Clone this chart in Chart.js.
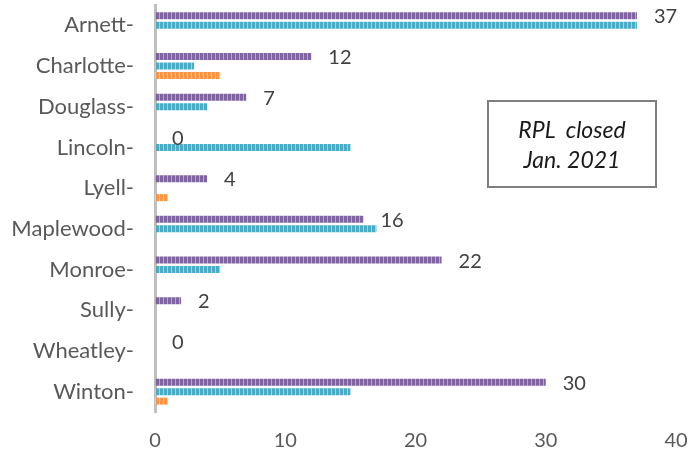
<!DOCTYPE html>
<html>
<head>
<meta charset="utf-8">
<script src="https://cdn.jsdelivr.net/npm/chart.js@4/dist/chart.umd.min.js"></script>
<style>
  html, body { margin: 0; padding: 0; background: #fff; }
  #wrap { position: relative; width: 693px; height: 456px; }
  #note {
    position: absolute; left: 487px; top: 100px; width: 166px; height: 84px;
    border: 2px solid #7f7f7f; box-sizing: content-box;
    font-family: Lato, "Open Sans", sans-serif; font-style: italic; font-size: 23px;
    color: #1a1a1a; text-align: center; line-height: 30px; padding-top: 0;
    display: flex; flex-direction: column; justify-content: center;
  }
</style>
</head>
<body>
<div id="wrap">
  <canvas id="c" width="693" height="456"></canvas>
  <div id="note"><div>RPL&nbsp; closed</div><div>Jan. 2021</div></div>
</div>
<script>
const categories = ["Arnett", "Charlotte", "Douglass", "Lincoln", "Lyell", "Maplewood", "Monroe", "Sully", "Wheatley", "Winton"];
const purpleValues = [37, 12, 7, 0, 4, 16, 22, 2, 0, 30];
const tealValues   = [37, 3, 4, 15, 0, 17, 5, 0, 0, 15];
const orangeValues = [0, 5, 0, 0, 1, 0, 0, 0, 0, 1];
const xTicks = [0, 10, 20, 30, 40];

function stripe(color, light) {
  const c = document.createElement('canvas');
  c.width = 4; c.height = 1;
  const g = c.getContext('2d');
  g.fillStyle = color; g.fillRect(0, 0, 3, 1);
  g.fillStyle = light; g.fillRect(3, 0, 1, 1);
  return document.getElementById('c').getContext('2d').createPattern(c, 'repeat');
}

const valueLabels = {
  id: 'valueLabels',
  afterDatasetsDraw(chart) {
    const ctx = chart.ctx;
    const meta = chart.getDatasetMeta(0);
    ctx.save();
    ctx.font = '20px Lato, "Open Sans", sans-serif';
    ctx.fillStyle = '#404040';
    ctx.textAlign = 'left';
    ctx.textBaseline = 'middle';
    meta.data.forEach((el, i) => {
      ctx.fillText(String(purpleValues[i]), el.x + 17, el.y + 1);
    });
    ctx.restore();
  }
};

new Chart(document.getElementById('c'), {
  type: 'bar',
  data: {
    labels: categories,
    datasets: [
      { data: purpleValues, backgroundColor: stripe('#8064A2', '#b7a6cc') },
      { data: tealValues, backgroundColor: stripe('#4BACC6', '#9fd3e1') },
      { data: orangeValues, backgroundColor: stripe('#F79646', '#fbc89c') }
    ]
  },
  options: {
    indexAxis: 'y',
    responsive: false,
    animation: false,
    layout: { padding: { top: 5, right: 17, left: 0, bottom: 0 } },
    datasets: { bar: { categoryPercentage: 0.70, barPercentage: 0.74 } },
    plugins: { legend: { display: false }, tooltip: { enabled: false } },
    scales: {
      x: {
        min: 0, max: 40,
        afterBuildTicks(s) { s.ticks = xTicks.map(v => ({ value: v })); },
        grid: { display: false },
        border: { display: false },
        ticks: { color: '#595959', font: { family: 'Lato, "Open Sans", sans-serif', size: 20 }, padding: 9 },
        afterFit(s) { s.height = 44; s.paddingLeft = 0; s.paddingRight = 0; }
      },
      y: {
        grid: { display: false },
        border: { display: true, color: '#BFBFBF', width: 3 },
        ticks: {
          color: '#595959', font: { family: 'Lato, "Open Sans", sans-serif', size: 22 }, padding: 13,
          callback(v, i) { return categories[i] + '-'; }
        },
        afterFit(s) { s.width = 155; s.paddingTop = 0; s.paddingBottom = 0; }
      }
    }
  },
  plugins: [valueLabels]
});
</script>
</body>
</html>
